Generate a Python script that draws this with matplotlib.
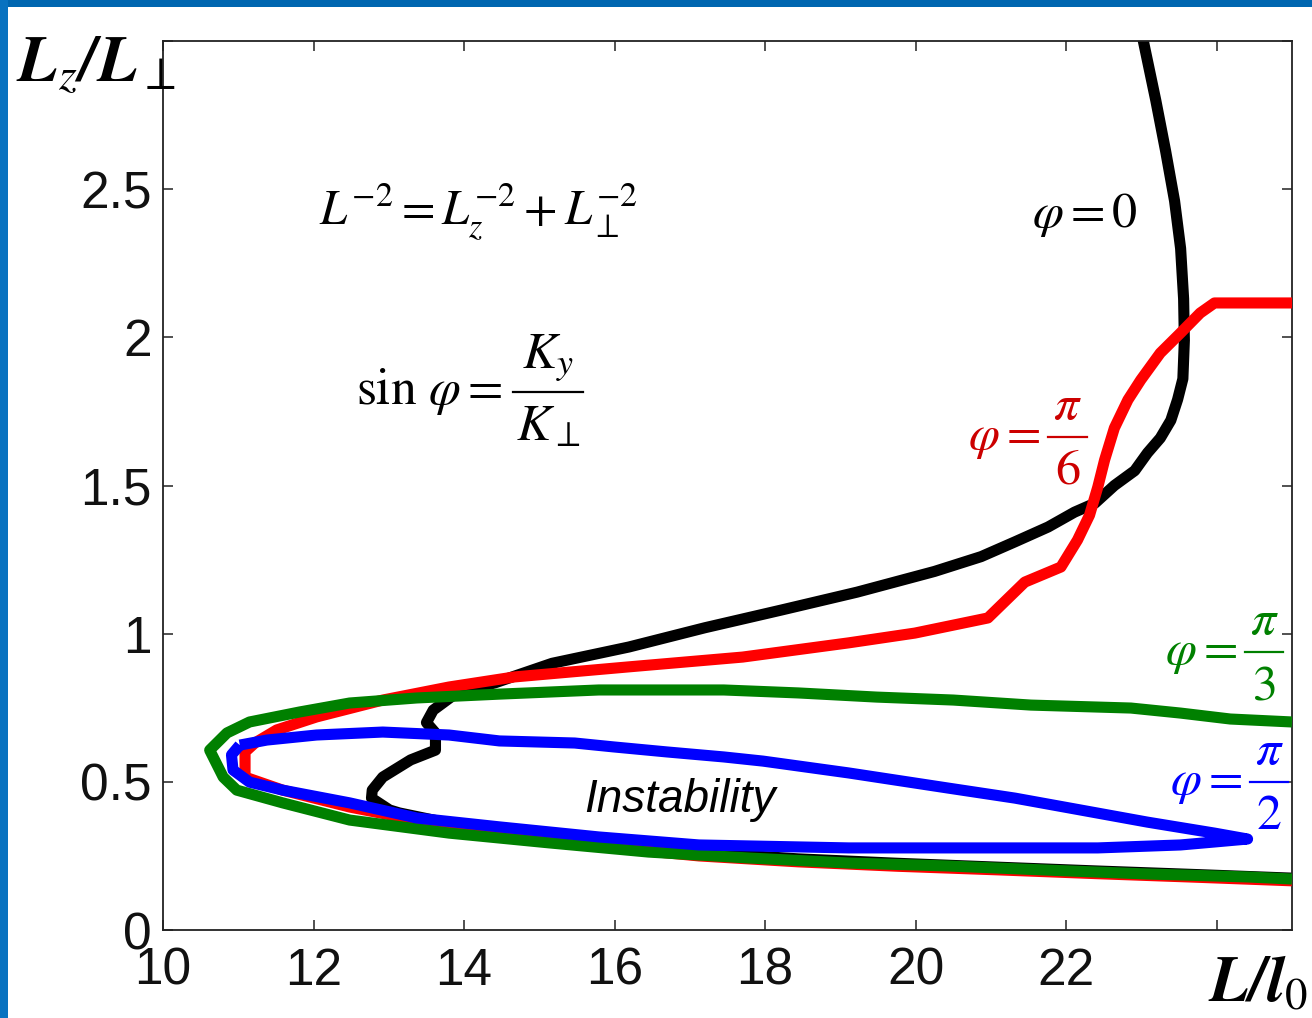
import matplotlib
matplotlib.use("Agg")
import matplotlib.pyplot as plt
from matplotlib import font_manager
from matplotlib.patches import Rectangle
from matplotlib.lines import Line2D

# ---------------- data ----------------
phi0_x = [23.00, 23.19, 23.32, 23.44, 23.52, 23.56, 23.57, 23.55, 23.48, 23.39, 23.25, 23.08,
          22.91, 22.64, 22.38, 22.11, 21.76, 21.32, 20.87, 20.25, 19.22, 18.22, 17.20, 16.19,
          15.17, 14.41, 13.90, 13.59, 13.50, 13.62, 13.62, 13.29, 12.92, 12.78, 12.77, 13.01,
          13.14, 14.47, 15.79, 17.12, 18.44, 19.77, 21.09, 22.42, 23.74, 25.0]
phi0_y = [3.03, 2.80, 2.63, 2.46, 2.30, 2.13, 1.99, 1.86, 1.79, 1.72, 1.66, 1.61,
          1.55, 1.50, 1.44, 1.41, 1.36, 1.31, 1.26, 1.21, 1.14, 1.08, 1.02, 0.955,
          0.90, 0.834, 0.80, 0.742, 0.70, 0.665, 0.607, 0.574, 0.516, 0.472, 0.445, 0.405,
          0.395, 0.325, 0.290, 0.262, 0.240, 0.225, 0.212, 0.199, 0.187, 0.175]

phi6_x = [25.0, 23.97, 23.78, 23.52, 23.25, 22.99, 22.82, 22.64, 22.51, 22.42, 22.31, 22.15,
          21.93, 21.45, 20.96, 19.99, 19.11, 17.70, 16.19, 14.67, 13.80, 12.92, 12.04, 11.51,
          11.22, 11.09, 11.09, 11.59, 12.48, 13.37, 14.47, 15.79, 17.12, 18.44, 19.77, 21.09,
          22.42, 23.74, 25.0]
phi6_y = [2.116, 2.116, 2.082, 2.015, 1.947, 1.856, 1.789, 1.694, 1.586, 1.495, 1.400, 1.316,
          1.225, 1.174, 1.053, 1.002, 0.969, 0.921, 0.888, 0.854, 0.820, 0.776, 0.719, 0.675,
          0.631, 0.601, 0.516, 0.472, 0.415, 0.371, 0.322, 0.282, 0.250, 0.230, 0.215, 0.203,
          0.190, 0.178, 0.166]

phi3_x = [25.0, 24.18, 23.52, 22.86, 21.53, 20.50, 19.48, 18.44, 17.45, 15.79, 14.47, 13.37,
          12.48, 11.82, 11.15, 10.85, 10.62, 10.80, 10.98, 11.59, 12.48, 13.80, 15.13, 16.45,
          17.78, 19.11, 20.43, 21.76, 23.08, 24.41, 25.0]
phi3_y = [0.702, 0.712, 0.732, 0.749, 0.759, 0.776, 0.786, 0.800, 0.810, 0.810, 0.796, 0.783,
          0.766, 0.736, 0.702, 0.665, 0.607, 0.516, 0.472, 0.429, 0.371, 0.327, 0.294, 0.263,
          0.243, 0.226, 0.216, 0.202, 0.189, 0.179, 0.172]

phi2_x = [11.02, 11.38, 12.04, 12.92, 13.80, 14.47, 15.47, 15.98, 16.69, 17.45, 17.97, 19.11,
          20.43, 21.32, 22.19, 23.08, 23.97, 24.41, 23.97, 23.52, 22.42, 19.11, 17.12, 15.79,
          14.47, 13.37, 12.48, 11.59, 11.15, 10.93, 10.91, 11.02]
phi2_y = [0.624, 0.641, 0.658, 0.668, 0.658, 0.638, 0.631, 0.618, 0.601, 0.584, 0.570, 0.530,
          0.479, 0.445, 0.405, 0.364, 0.327, 0.307, 0.297, 0.287, 0.277, 0.277, 0.287, 0.314,
          0.348, 0.378, 0.429, 0.472, 0.499, 0.540, 0.591, 0.624]

x_ticks = [10, 12, 14, 16, 18, 20, 22, 24]
x_tick_labels = ["10", "12", "14", "16", "18", "20", "22", ""]
y_ticks = [0, 0.5, 1, 1.5, 2, 2.5, 3]
y_tick_labels = ["0", "0.5", "1", "1.5", "2", "2.5", ""]

# ---------------- style ----------------
plt.rcParams["mathtext.fontset"] = "stix"
names = {f.name for f in font_manager.fontManager.ttflist}
if "Liberation Sans Narrow" in names:
    tick_family, tick_size = "Liberation Sans Narrow", 41
else:
    tick_family, tick_size = "Liberation Sans", 37

W, H = 1312, 1018
fig = plt.figure(figsize=(W / 100, H / 100), dpi=100)
fig.patch.set_facecolor("white")

def fx(px):
    return px / W

def fy(py):
    return 1 - py / H

# blue slide border (top and left)
fig.patches.append(Rectangle((0, fy(7)), 1, 7 / H, transform=fig.transFigure,
                             facecolor="#0066B0", edgecolor="none", zorder=0))
fig.patches.append(Rectangle((0, 0), 8 / W, 1, transform=fig.transFigure,
                             facecolor="#0872C0", edgecolor="none", zorder=0))

ax = fig.add_axes([fx(163), fy(930), (1292 - 163) / W, (930 - 41) / H])
ax.set_xlim(10, 25)
ax.set_ylim(0, 3)

lw = 8
kw = dict(lw=lw, solid_joinstyle="round", solid_capstyle="butt")
ax.plot(phi0_x, phi0_y, color="black", zorder=2, **kw)
ax.plot(phi6_x, phi6_y, color="#FF0000", zorder=3, **kw)
ax.plot(phi3_x, phi3_y, color="#008000", zorder=4, **kw)
ax.plot(phi2_x, phi2_y, color="#0000FF", zorder=5, **kw)

ax.set_xticks(x_ticks)
ax.set_xticklabels(x_tick_labels, fontfamily=tick_family, fontsize=tick_size)
ax.set_yticks(y_ticks)
ax.set_yticklabels(y_tick_labels, fontfamily=tick_family, fontsize=tick_size)
ax.tick_params(axis="both", direction="in", length=7, width=1.1, color="#222222",
               top=True, right=True, labelcolor="#111111")
ax.tick_params(axis="x", pad=12)
ax.tick_params(axis="y", pad=8)
for s in ax.spines.values():
    s.set_linewidth(1.3)
    s.set_color("#222222")

# ---------------- annotations ----------------
def frac_label(lhs, lhs_right, num, den, bar_x0, bar_x1, bar_y, color, size=36):
    """lhs text to the left of a display-style fraction whose bar is at pixel row bar_y."""
    fig.text(fx(lhs_right), fy(bar_y + 12), lhs, fontsize=size, ha="right", va="baseline",
             color=color)
    xc = (bar_x0 + bar_x1) / 2
    fig.text(fx(xc), fy(bar_y - 8), num, fontsize=size, ha="center", va="bottom", color=color)
    fig.text(fx(xc), fy(bar_y + 9), den, fontsize=size, ha="center", va="top", color=color)
    fig.lines.append(Line2D([fx(bar_x0), fx(bar_x1)], [fy(bar_y), fy(bar_y)],
                            transform=fig.transFigure, color=color, lw=1.6))

fig.text(fx(478), fy(212), r"$L^{-2}=L_z^{-2}+L_{\perp}^{-2}$", fontsize=35,
         ha="center", va="center", color="black")
frac_label(r"$\mathrm{sin}\ \varphi =$", 502, r"$K_y$", r"$K_{\perp}$", 513, 583, 392, "black", 37)

fig.text(fx(1085), fy(215), r"$\varphi = 0$", fontsize=36, ha="center", va="center", color="black")
frac_label(r"$\varphi =$", 1040, r"$\pi$", r"$6$", 1048, 1087, 437, "#CC0000")
frac_label(r"$\varphi =$", 1237, r"$\pi$", r"$3$", 1245, 1283, 652, "#008000")
frac_label(r"$\varphi =$", 1242, r"$\pi$", r"$2$", 1250, 1288, 782, "#0000FF")

fig.text(fx(680), fy(800), "Instability", fontsize=33, fontfamily="Liberation Sans",
         style="italic", ha="center", va="center", color="black")

# axis labels
fig.text(fx(16), fy(32), r"$\mathbfit{L}_{z}\mathbfit{/L}_{\perp}$", fontsize=47,
         ha="left", va="top", color="black")
fig.text(fx(1308), fy(1014), r"$\mathbfit{L/l}_{0}$", fontsize=46,
         ha="right", va="bottom", color="black")

fig.savefig("out.png", dpi=100, facecolor="white")
